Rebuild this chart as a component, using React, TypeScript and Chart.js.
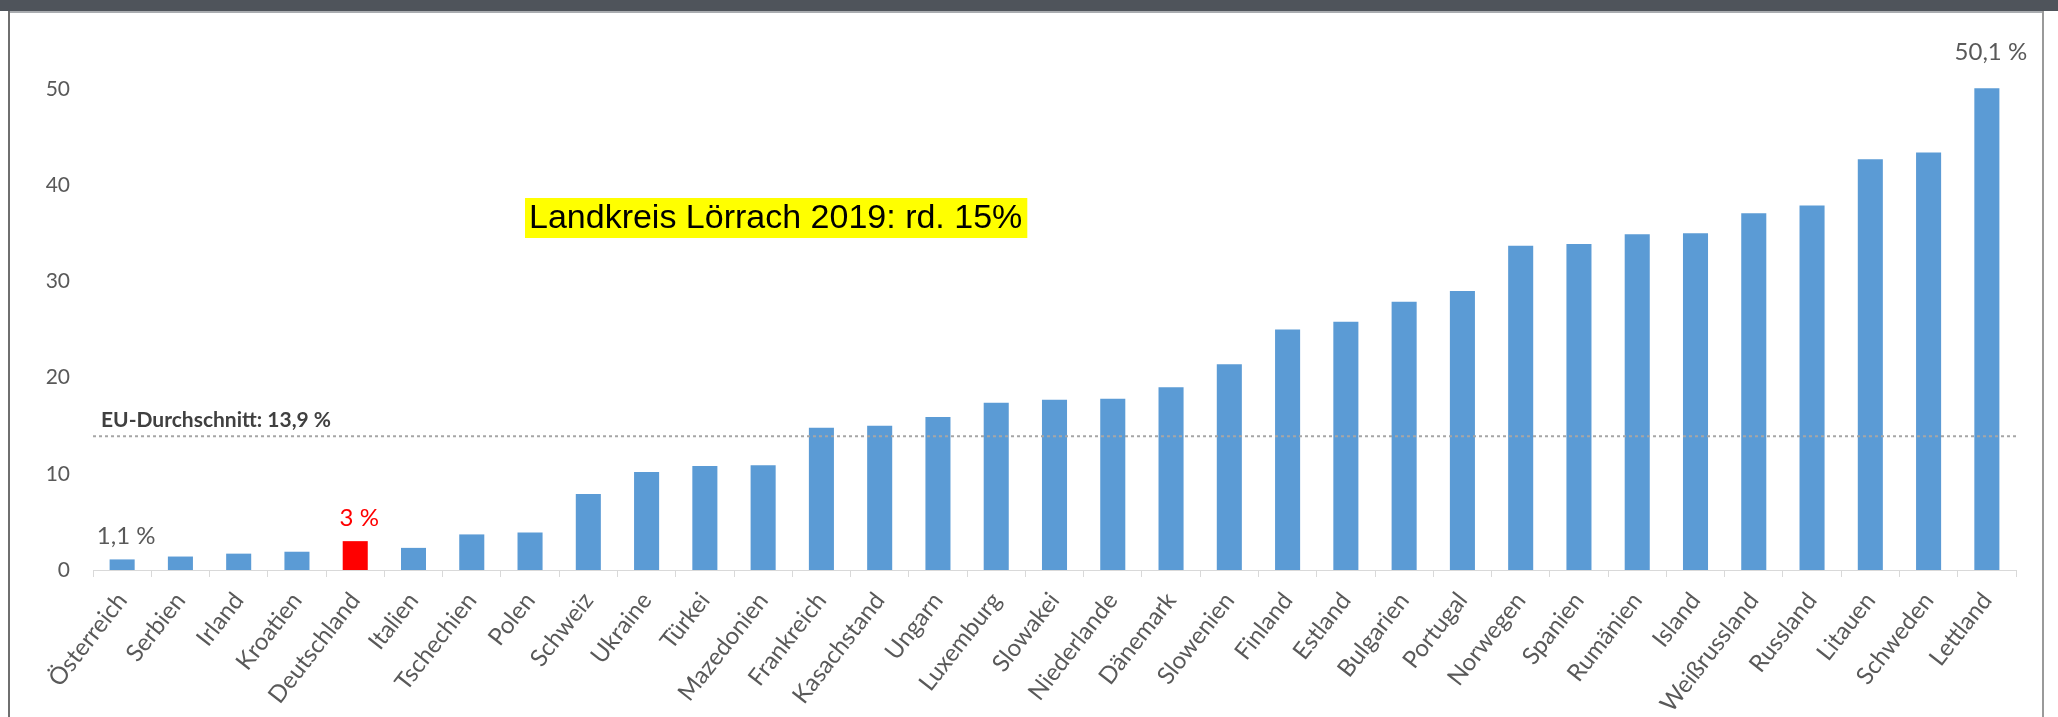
import React, { useEffect, useRef } from "react";
import { Chart, registerables } from "chart.js";

Chart.register(...registerables);

const categories = [
  "Österreich", "Serbien", "Irland", "Kroatien", "Deutschland", "Italien", "Tschechien",
  "Polen", "Schweiz", "Ukraine", "Türkei", "Mazedonien", "Frankreich", "Kasachstand",
  "Ungarn", "Luxemburg", "Slowakei", "Niederlande", "Dänemark", "Slowenien", "Finland",
  "Estland", "Bulgarien", "Portugal", "Norwegen", "Spanien", "Rumänien", "Island",
  "Weißrussland", "Russland", "Litauen", "Schweden", "Lettland",
];

const values = [
  1.1, 1.4, 1.7, 1.9, 3.0, 2.3, 3.7,
  3.9, 7.9, 10.2, 10.8, 10.9, 14.8, 15.0,
  15.9, 17.4, 17.7, 17.8, 19.0, 21.4, 25.0,
  25.8, 27.9, 29.0, 33.7, 33.9, 34.9, 35.0,
  37.1, 37.9, 42.7, 43.4, 50.1,
];

const yTicks = [0, 10, 20, 30, 40, 50];
const euAverage = 13.9;
const euLabel = "EU-Durchschnitt: 13,9 %";
const highlighted = "Deutschland";
const labeledCategories = ["Österreich", "Deutschland", "Lettland"];
const annotationText = "Landkreis Lörrach 2019: rd. 15%";

const BLUE = "#5B9BD5";
const RED = "#FF0000";
const GRAY_TEXT = "#595959";
const FONT = "Lato, 'Open Sans', sans-serif";

export default function App() {
  const ref = useRef<HTMLCanvasElement>(null);

  useEffect(() => {
    const canvas = ref.current as HTMLCanvasElement;

    const overlay = {
      id: "overlay",
      beforeDraw(chart: any) {
        const ctx = chart.ctx;
        ctx.save();
        ctx.fillStyle = "#ffffff";
        ctx.fillRect(0, 0, chart.width, chart.height);
        // frame
        ctx.fillStyle = "#4f545b";
        ctx.fillRect(0, 0, chart.width, 11);
        ctx.fillStyle = "#a9acb0";
        ctx.fillRect(8, 11, 2036, 2);
        ctx.fillStyle = "#6f6f6f";
        ctx.fillRect(8, 11, 2, chart.height - 11);
        ctx.fillStyle = "#9a9a9a";
        ctx.fillRect(2042, 11, 2, chart.height - 11);
        ctx.restore();
      },
      afterDatasetsDraw(chart: any) {
        const ctx = chart.ctx;
        const area = chart.chartArea;
        const yScale = chart.scales.y;
        const meta = chart.getDatasetMeta(0);
        ctx.save();

        // EU average line
        const yEu = yScale.getPixelForValue(euAverage);
        ctx.strokeStyle = "#a6a6a6";
        ctx.lineWidth = 2;
        ctx.setLineDash([3, 3]);
        ctx.beginPath();
        ctx.moveTo(area.left, yEu);
        ctx.lineTo(area.right, yEu);
        ctx.stroke();
        ctx.setLineDash([]);

        ctx.fillStyle = "#404040";
        ctx.font = `bold 21px ${FONT}`;
        ctx.textAlign = "left";
        ctx.textBaseline = "bottom";
        ctx.fillText(euLabel, area.left + 8, yEu - 6);

        // data labels
        ctx.font = `24px ${FONT}`;
        ctx.textAlign = "center";
        ctx.textBaseline = "bottom";
        labeledCategories.forEach((name) => {
          const i = categories.indexOf(name);
          const el = meta.data[i];
          const txt = values[i].toLocaleString("de-DE") + " %";
          const lift = i === categories.length - 1 ? 24 : 11;
          ctx.fillStyle = name === highlighted ? RED : GRAY_TEXT;
          ctx.fillText(txt, el.x + 4, el.y - lift);
        });

        // annotation box
        ctx.font = "34px 'Liberation Sans', Arial, sans-serif";
        const w = ctx.measureText(annotationText).width;
        ctx.fillStyle = "#FFFF00";
        ctx.fillRect(525, 198, w + 9, 40);
        ctx.fillStyle = "#000000";
        ctx.textAlign = "left";
        ctx.textBaseline = "middle";
        ctx.fillText(annotationText, 529, 219);

        ctx.restore();
      },
    };

    const chart = new Chart(canvas, {
      type: "bar",
      data: {
        labels: categories,
        datasets: [
          {
            data: values,
            backgroundColor: categories.map((c) => (c === highlighted ? RED : BLUE)),
            barPercentage: 0.43,
            categoryPercentage: 1,
            borderWidth: 0,
          },
        ],
      },
      options: {
        responsive: false,
        animation: false,
        devicePixelRatio: 1,
        layout: { padding: { left: 0, top: 41, right: 42, bottom: 0 } },
        plugins: {
          legend: { display: false },
          tooltip: { enabled: false },
        },
        scales: {
          x: {
            grid: {
              display: true,
              drawOnChartArea: false,
              offset: true,
              tickLength: 7,
              color: "#d9d9d9",
            },
            border: { display: true, color: "#d9d9d9", width: 1 },
            ticks: {
              autoSkip: false,
              minRotation: 52,
              maxRotation: 52,
              color: GRAY_TEXT,
              font: { family: FONT, size: 24 },
              padding: 10,
            },
            afterFit: (scale: any) => {
              scale.height = 147;
            },
          },
          y: {
            min: 0,
            max: 55,
            grid: { display: false, drawTicks: false },
            border: { display: false },
            ticks: {
              color: GRAY_TEXT,
              font: { family: FONT, size: 21 },
              padding: 23,
            },
            afterBuildTicks: (scale: any) => {
              scale.ticks = yTicks.map((v) => ({ value: v }));
            },
            afterFit: (scale: any) => {
              scale.width = 93;
            },
          },
        },
      },
      plugins: [overlay],
    });

    return () => chart.destroy();
  }, []);

  return (
    <div style={{ position: "fixed", left: 0, top: 0, width: 2058, height: 717, background: "#fff" }}>
      <canvas ref={ref} width={2058} height={717} style={{ display: "block", width: 2058, height: 717 }} />
    </div>
  );
}
